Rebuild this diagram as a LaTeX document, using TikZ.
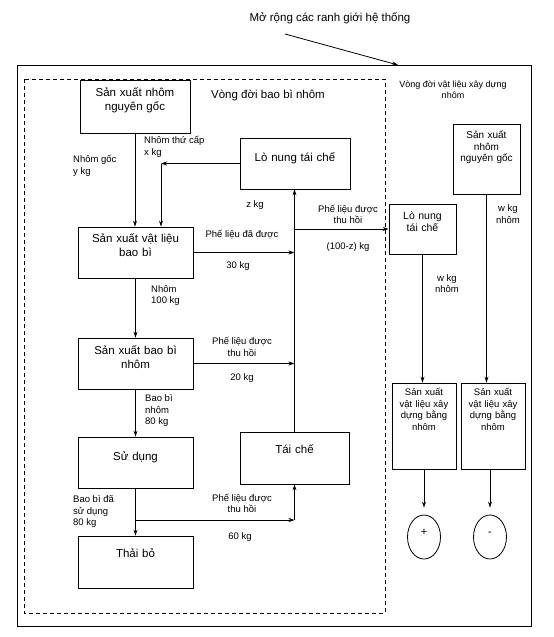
\documentclass[tikz,border=0pt]{standalone}
\usepackage{fontspec}
\setmainfont{Liberation Sans}
\usetikzlibrary{shapes.geometric, arrows.meta}

\begin{document}
\begin{tikzpicture}[
    x=1pt, y=-1pt,
    box/.style={rectangle, draw, line width=0.8pt, inner sep=0pt, align=center, text width=#1, font=\fontsize{11.5}{14}\selectfont},
    box/.default=115pt,
    smallbox/.style={box=#1, font=\fontsize{9.5}{11.5}\selectfont},
    lbl/.style={inner sep=0pt, align=center, font=\fontsize{9.5}{11.5}\selectfont},
    lblw/.style={lbl, align=left, anchor=west},
    sign/.style={ellipse, draw, line width=0.8pt, minimum width=33pt, minimum height=44pt, inner sep=0pt, text height=8pt, text depth=12pt, font=\fontsize{11}{13}\selectfont},
    arrow/.style={->, >={Stealth[length=6pt, width=4pt]}, line width=0.8pt}
]
    \useasboundingbox (0,0) rectangle (554,637);

    % Frames: extended system boundary and packaging life cycle
    \draw[line width=1pt] (17,65) rectangle (531,626);
    \draw[line width=0.8pt, dash pattern=on 4pt off 3pt] (24,79) rectangle (385,613);

    % Title and pointer to the outer frame
    \node[font=\fontsize{11.5}{14}\selectfont] (title) at (330,18) {Mở rộng các ranh giới hệ thống};
    \coordinate (ptr) at (285,34);
    \coordinate (edge) at (398,65);
    \draw[arrow] (ptr) -- (edge);

    \node[font=\fontsize{11.5}{14}\selectfont] (packlife) at (268,95) {Vòng đời bao bì nhôm};
    \node[lbl, font=\fontsize{9}{11}\selectfont] (buildlife) at (453,89.5) {Vòng đời vật liệu xây dựng\\nhôm};

    % Packaging life cycle boxes
    \node[box=110pt, text height=16pt, text depth=37pt] (prim) at (135,106.5) {Sản xuất nhôm\\nguyên gốc};
    \node[box=110pt, text height=23pt, text depth=28pt] (furnace) at (295,163.5) {Lò nung tái chế};
    \node[box, text height=15pt, text depth=36pt] (matprod) at (135.5,252.5) {Sản xuất vật liệu\\bao bì};
    \node[box, text height=16pt, text depth=35pt] (packprod) at (135.5,363.5) {Sản xuất bao bì\\nhôm};
    \node[box, text height=23pt, text depth=28pt] (use) at (135.5,462.5) {Sử dụng};
    \node[box, text height=21pt, text depth=31pt] (disposal) at (135.5,562) {Thải bỏ};
    \node[box=109pt, text height=21pt, text depth=31pt] (recycle) at (294.5,458) {Tái chế};

    % Building material life cycle boxes
    \node[box=67pt, text height=15pt, text depth=35pt, font=\fontsize{10.5}{12}\selectfont] (furnace2) at (422.5,229) {Lò nung\\tái chế};
    \node[smallbox=67pt, text height=14.5pt, text depth=55.5pt, font=\fontsize{10}{11.5}\selectfont] (prim2) at (486.5,159) {Sản xuất\\nhôm\\nguyên gốc};
    \node[smallbox=64pt, text height=12.5pt, text depth=73.5pt] (build1) at (424,426) {Sản xuất\\vật liệu xây\\dựng bằng\\nhôm};
    \node[smallbox=64pt, text height=12.5pt, text depth=73.5pt] (build2) at (493,426) {Sản xuất\\vật liệu xây\\dựng bằng\\nhôm};
    \node[sign] (plus) at (424,537) {+};
    \node[sign] (minus) at (490,537) {-};

    % Arrows
    \draw[arrow] (prim.south) -- (prim.south |- matprod.north);
    \coordinate (secin) at (161,163.5);
    \draw[arrow] (furnace.west) -- (secin);
    \draw[arrow] (secin) -- (secin |- matprod.north);
    \draw[arrow] (recycle.north) -- (recycle.north |- furnace.south);
    \draw[arrow] (matprod.east) -- (matprod.east -| recycle.north);
    \draw[arrow] (packprod.east) -- (packprod.east -| recycle.north);
    \draw[arrow] (furnace2.west -| recycle.north) -- (furnace2.west);
    \draw[arrow] (matprod) -- (packprod);
    \draw[arrow] (packprod) -- (use);
    \draw[arrow] (use) -- (disposal);
    \coordinate (split) at (135.5,520);
    \coordinate (turn) at (294.5,520);
    \draw[arrow] (split) -- (turn);
    \draw[arrow] (turn) -- (recycle);
    \draw[arrow] (furnace2.south) -- (furnace2.south |- build1.north);
    \draw[arrow] (prim2.south) -- (prim2.south |- build2.north);
    \draw[arrow, shorten >=7pt] (build1) -- (plus);
    \draw[arrow, shorten >=7pt] (minus |- build2.south) -- (minus);

    % Flow labels
    \node[lblw] (ylbl) at (73,166) {Nhôm gốc\\y kg};
    \node[lblw] (xlbl) at (144,147) {Nhôm thứ cấp\\x kg};
    \node[lbl] (zlbl) at (255,205) {z kg};
    \node[lbl] (scrap30) at (242,235) {Phế liệu đã được};
    \node[lbl] (kg30) at (238,266) {30 kg};
    \node[lbl] (recov) at (348,214.5) {Phế liệu được\\thu hồi};
    \node[lbl] (kgrest) at (348,247) {(100-z) kg};
    \node[lblw] (al100) at (151,295.5) {Nhôm\\100 kg};
    \node[lbl] (scrap20) at (242,347) {Phế liệu được\\thu hồi};
    \node[lbl] (kg20) at (242,378) {20 kg};
    \node[lblw] (pack80) at (145,410.5) {Bao bì\\nhôm\\80 kg};
    \node[lblw] (used80) at (73,511.5) {Bao bì đã\\sử dụng\\80 kg};
    \node[lbl] (scrap60) at (242,503.5) {Phế liệu được\\thu hồi};
    \node[lbl] (kg60) at (240,537) {60 kg};
    \node[lbl] (wlbl1) at (447,283.5) {w kg\\nhôm};
    \node[lbl] (wlbl2) at (508,214) {w kg\\nhôm};
\end{tikzpicture}
\end{document}
